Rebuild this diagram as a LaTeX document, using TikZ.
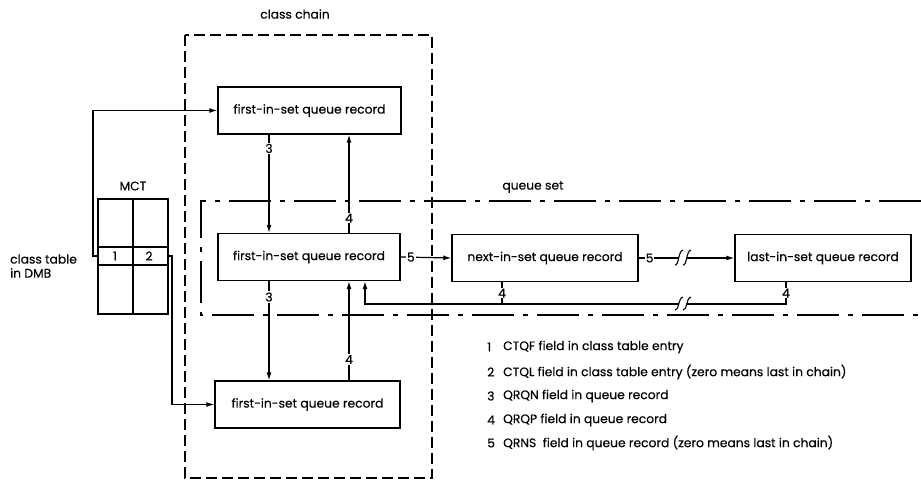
\documentclass[tikz,border=0pt]{standalone}
\usepackage{fontspec}
\setmainfont{Poppins}[FakeBold=0.3]
\usetikzlibrary{arrows.meta}
\begin{document}
\begin{tikzpicture}[x=1pt,y=-1pt,
  every node/.style={font=\fontsize{12.3}{14}\selectfont},
  rec/.style={draw, line width=1.4pt, minimum height=47pt, inner sep=0pt},
  conn/.style={line width=1.2pt, -{Latex[length=8pt,width=5pt]}},
  plain/.style={line width=1.2pt},
  lbl/.style={fill=white, inner sep=1pt},
  chain/.style={line width=1.4pt, dash pattern=on 11pt off 5pt},
  qset/.style={line width=1.3pt, dash pattern=on 42pt off 9pt on 5pt off 9pt},
  brk/.style={line width=1.1pt},
  leg/.style={anchor=west, inner sep=0pt}]
\useasboundingbox (0,0) rectangle (921,481);
% class chain and queue set outlines
\draw[chain] (185,35) rectangle (432,478);
\node (cclbl) at (295,14) {class chain};
\draw[qset] (921,201) -- (201,201) -- (201,315) -- (921,315);
\node (qslbl) at (533,187) {queue set};
% records
\node[rec, minimum width=183pt] (top) at (309.5,110.5) {first-in-set queue record};
\node[rec, minimum width=182pt] (mid) at (309,257) {first-in-set queue record};
\node[rec, minimum width=185pt] (bot) at (307.5,404.5) {first-in-set queue record};
\node[rec, minimum width=186pt] (nxt) at (545,258) {next-in-set queue record};
\node[rec, minimum width=176pt] (lst) at (823,258) {last-in-set queue record};
% MCT table
\node[draw, line width=1.3pt, minimum width=70pt, minimum height=115pt, inner sep=0pt] (mct) at (133,256.5) {};
\draw[plain] (mct.north) -- (mct.south);
\draw[plain] (98,247) -- (168,247);
\draw[plain] (98,265) -- (168,265);
\node (mctlbl) at (133,186) {MCT};
\node (c1) at (115,256) {1};
\node (c2) at (149,256) {2};
\node[align=left, anchor=west, inner sep=0pt] (ct) at (10,266) {class table\\in DMB};
% x positions
\coordinate (x3) at (269,0);
\coordinate (x4) at (349,0);
\coordinate (x4b) at (365,0);
\coordinate (xn) at (502,0);
\coordinate (xl) at (786,0);
\coordinate (m1) at (98,256);
\coordinate (m2) at (168,256);
% table pointers
\draw[conn] (m1) -- ++(-5,0) |- (top.west);
\draw[conn] (m2) -- ++(4,0) |- (bot.west);
% chain pointers
\draw[conn] (top.south -| x3) -- node[lbl, pos=0.14] {3} (mid.north -| x3);
\draw[conn] (mid.north -| x4) -- node[lbl, pos=0.15] {4} (top.south -| x4);
\draw[conn] (mid.south -| x3) -- node[lbl, pos=0.16] {3} (bot.north -| x3);
\draw[conn] (bot.north -| x4) -- node[lbl, pos=0.21] {4} (mid.south -| x4);
% set pointers
\draw[conn] (mid.east) -- node[lbl, pos=0.2] {5} (nxt.west);
\coordinate (b5a) at (679,258);
\coordinate (b5b) at (687,258);
\draw[plain] (nxt.east) -- node[lbl, pos=0.27] {5} (b5a);
\draw[conn] (b5b) -- (lst.west);
\draw[brk] (675,265) .. controls (679,266) and (678,251) .. (683,250);
\draw[brk] (683,265) .. controls (687,266) and (686,251) .. (691,250);
% backward pointers
\coordinate (ya) at (0,304);
\coordinate (b4a) at (687,304);
\coordinate (b4b) at (679,304);
\draw[plain] (lst.south -| xl) -- node[lbl, inner sep=0.5pt] {4} (xl |- ya) -- (b4a);
\draw[conn] (b4b) -| (mid.south -| x4b);
\draw[brk] (675,310) .. controls (679,311) and (678,298) .. (683,297);
\draw[brk] (683,310) .. controls (687,311) and (686,298) .. (691,297);
\draw[plain] (nxt.south -| xn) -- node[lbl, inner sep=0.5pt] {4} (xn |- ya);
% legend
\node[leg] (n1) at (487,347) {1};
\node[leg] (t1) at (503,347) {CTQF field in class table entry};
\node[leg] (n2) at (487,372) {2};
\node[leg] (t2) at (503,372) {CTQL field in class table entry (zero means last in chain)};
\node[leg] (n3) at (487,396) {3};
\node[leg] (t3) at (503,396) {QRQN field in queue record};
\node[leg] (n4) at (487,420) {4};
\node[leg] (t4) at (503,420) {QRQP field in queue record};
\node[leg] (n5) at (487,443) {5};
\node[leg] (t5) at (503,443) {QRNS\ \ field in queue record (zero means last in chain)};
\end{tikzpicture}
\end{document}
